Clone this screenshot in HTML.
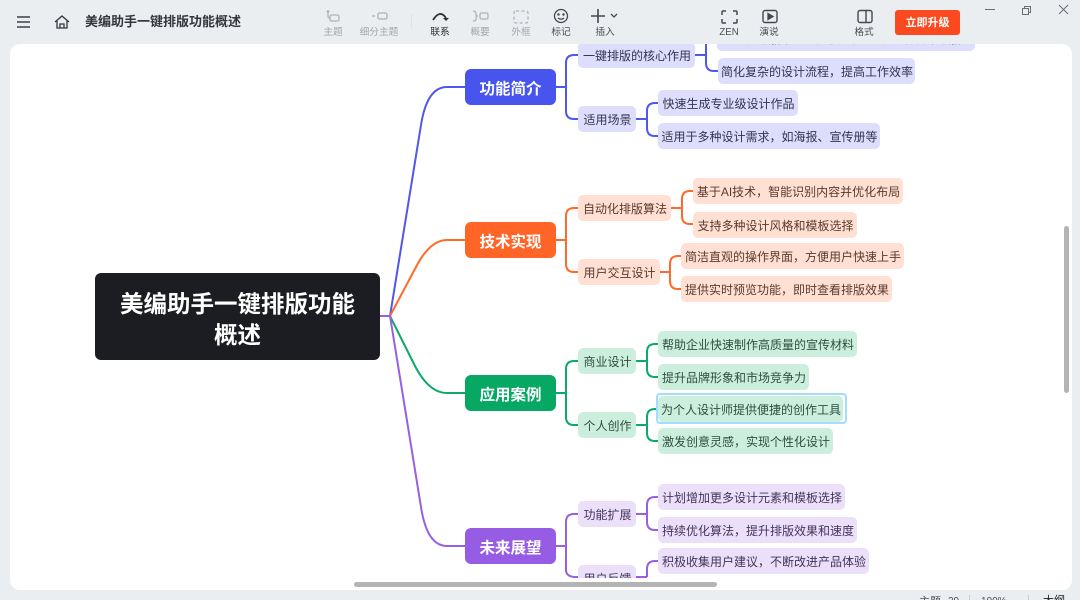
<!DOCTYPE html>
<html lang="zh"><head><meta charset="utf-8">
<style>
html,body{margin:0;padding:0;width:1080px;height:600px;overflow:hidden;background:#ebeef1;font-family:"Liberation Sans","Noto Sans CJK SC",sans-serif}
.a{position:absolute}
#canvas{position:absolute;left:10px;top:44px;width:1062px;height:546px;background:#fff;border-radius:10px}
#map{position:absolute;left:0;top:44px;width:1072px;height:534px;overflow:hidden}
#inner{position:absolute;left:0;top:-44px;width:1072px;height:578px;overflow:hidden}
.n{position:absolute;height:26px;box-sizing:border-box;padding:2px 0 0 1px;line-height:24px;font-size:12px;border-radius:5px;text-align:center;white-space:nowrap;overflow:hidden}
.b{background:#dcdefb;color:#33354f}
.o{background:#ffe0d2;color:#5a3a2c}
.g{background:#cceedd;color:#2c4f3f}
.p{background:#ecdffa;color:#43355a}
.m{position:absolute;left:465px;width:91px;height:36px;box-sizing:border-box;padding-top:3px;line-height:36px;border-radius:6px;color:#fff;font-size:15.5px;font-weight:bold;text-align:center;overflow:hidden}
.t{position:absolute;font-size:9.700px;color:#a3a7ab;text-align:center;width:50px;top:27px;line-height:12px;white-space:nowrap}
.d{color:#4c5056}
svg{position:absolute;left:0;top:0}
</style></head><body>
<div id="canvas"></div>
<div id="map"><div id="inner">
<svg width="1072" height="578" fill="none" stroke-width="2">
<g stroke="#4f57ec">
<path d="M380 316H390L421 125Q427 87 447 87H465"/>
<path d="M556 87H566M578 55H574Q566 55 566 63V111Q566 119 574 119H578"/>
<path d="M695 55H706M718 38H714Q706 38 706 46V63Q706 71 714 71H718"/>
<path d="M636 119H647M658 103H655Q647 103 647 111V128Q647 136 655 136H658"/>
</g>
<g stroke="#ff6a2b">
<path d="M380 316H390L416 267Q430 240 447 240H465"/>
<path d="M556 240H566M578 208H574Q566 208 566 216V264Q566 272 574 272H578"/>
<path d="M671 208H682M693 191H690Q682 191 682 199V216Q682 224 690 224H693"/>
<path d="M660 272H670M681 256H678Q670 256 670 264V281Q670 289 678 289H681"/>
</g>
<g stroke="#0ea968">
<path d="M380 316H390L415 366Q429 393 447 393H465"/>
<path d="M556 393H566M578 361H574Q566 361 566 369V417Q566 425 574 425H578"/>
<path d="M636 361H647M658 344H655Q647 344 647 352V369Q647 377 655 377H658"/>
<path d="M636 425H647M658 409H655Q647 409 647 417V433Q647 441 655 441H658"/>
</g>
<g stroke="#975fe4">
<path d="M380 316H390L421 507Q427 546 447 546H465"/>
<path d="M556 546H566M578 514H574Q566 514 566 522V570Q566 576 574 577H578"/>
<path d="M636 514H647M658 497H655Q647 497 647 505V522Q647 530 655 530H658"/>
<path d="M636 577H647M658 561H655Q647 561 647 569V577"/>
</g>
</svg>
<div class="a" style="left:95px;top:273px;width:285px;height:87px;background:#1c1d22;border-radius:6px;color:#fff;font-size:23.500px;font-weight:bold;line-height:31px;text-align:center;box-sizing:border-box;padding:16px 20px 0">美编助手一键排版功能<br>概述</div>

<div class="m" style="top:69px;background:#4755ee">功能简介</div>
<div class="m" style="top:222px;background:#ff6526">技术实现</div>
<div class="m" style="top:375px;background:#07a864">应用案例</div>
<div class="m" style="top:528px;background:#975ce4;height:36px">未来展望</div>

<div class="n b" style="left:578px;top:42px;width:117px">一键排版的核心作用</div>
<div class="n b" style="left:578px;top:106px;width:58px">适用场景</div>
<div class="n b" style="left:717px;top:25px;width:258px">一键排版帮助用户快速完成专业级设计排版</div>
<div class="n b" style="left:718px;top:58px;width:197px">简化复杂的设计流程，提高工作效率</div>
<div class="n b" style="left:658px;top:90px;width:140px">快速生成专业级设计作品</div>
<div class="n b" style="left:658px;top:123px;width:222px">适用于多种设计需求，如海报、宣传册等</div>

<div class="n o" style="left:578px;top:195px;width:93px">自动化排版算法</div>
<div class="n o" style="left:578px;top:259px;width:82px">用户交互设计</div>
<div class="n o" style="left:693px;top:178px;width:210px">基于AI技术，智能识别内容并优化布局</div>
<div class="n o" style="left:693px;top:212px;width:164px">支持多种设计风格和模板选择</div>
<div class="n o" style="left:681px;top:243px;width:223px">简洁直观的操作界面，方便用户快速上手</div>
<div class="n o" style="left:681px;top:276px;width:211px">提供实时预览功能，即时查看排版效果</div>

<div class="n g" style="left:578px;top:348px;width:58px">商业设计</div>
<div class="n g" style="left:578px;top:412px;width:58px">个人创作</div>
<div class="n g" style="left:658px;top:331px;width:199px">帮助企业快速制作高质量的宣传材料</div>
<div class="n g" style="left:658px;top:364px;width:151px">提升品牌形象和市场竞争力</div>
<div class="a" style="left:656px;top:393px;width:187px;height:27px;border:2px solid #a3dcff;border-radius:4px"></div>
<div class="n g" style="left:658px;top:396px;width:185px">为个人设计师提供便捷的创作工具</div>
<div class="n g" style="left:658px;top:428px;width:175px">激发创意灵感，实现个性化设计</div>

<div class="n p" style="left:578px;top:501px;width:58px">功能扩展</div>
<div class="n p" style="left:578px;top:565px;width:58px;height:13px;border-radius:5px 5px 0 0">用户反馈</div>
<div class="n p" style="left:658px;top:484px;width:187px">计划增加更多设计元素和模板选择</div>
<div class="n p" style="left:658px;top:517px;width:199px">持续优化算法，提升排版效果和速度</div>
<div class="n p" style="left:658px;top:548px;width:211px">积极收集用户建议，不断改进产品体验</div>
</div></div>

<div class="a" style="left:354px;top:582px;width:363px;height:5px;background:#b4b4b4;border-radius:3px"></div>
<div class="a" style="left:1064px;top:226px;width:5px;height:167px;background:#b4b4b4;border-radius:3px"></div>

<!-- toolbar -->
<svg width="1080" height="44" fill="none" stroke-width="1.3">
<g stroke="#3d4146" stroke-width="1.5"><path d="M17 17H30M17 22H30M17 27H30"/></g>
<path d="M55 22L62 16L69 22M57 21V28H67V21M60 28V24H64V28" stroke="#33373c" stroke-width="1.3"/>
<g stroke="#b0b3b7">
<path d="M328 12V16Q328 18 330 18"/><rect x="330" y="15" width="9" height="6" rx="1.500"/><circle cx="328" cy="11.500" r=".7"/>
<rect x="378" y="13" width="9" height="6" rx="1.500"/><path d="M372 16H375"/>
<path d="M473 11Q476 11 476 14V15Q476 16 478 16Q476 16 476 18V19Q476 21 473 21"/><rect x="480" y="13" width="8" height="6" rx="1.500"/>
<rect x="514" y="11" width="14" height="12" rx="2" stroke-dasharray="3 2.500"/>
</g>
<path d="M433 20Q440 9 446 18" stroke="#2e3135" stroke-width="1.800"/><path d="M443 18H449L446 21Z" fill="#2e3135"/>
<g stroke="#45494e">
<circle cx="561" cy="16" r="6.500"/><circle cx="558.500" cy="14.500" r=".6" fill="#45494e"/><circle cx="563.500" cy="14.500" r=".6" fill="#45494e"/><path d="M558 18Q561 20.500 564 18"/>
<path d="M591 16H605M598 9V23" stroke-width="1.600"/><path d="M611 14L614 17L617 14" stroke-width="1.300"/>
<path d="M722 15V12Q722 11 723 11H726M733 11H736Q737 11 737 12V15M737 19V22Q737 23 736 23H733M726 23H723Q722 23 722 22V19" stroke-width="1.500"/>
<rect x="763" y="10.500" width="14" height="12" rx="2" stroke-width="1.400"/><path d="M768 13.500V19.500L773 16.500Z" fill="#45494e"/>
<rect x="858" y="10.500" width="14" height="12" rx="2" stroke-width="1.400"/><path d="M866 11V22" stroke-width="1.400"/>
</g>
<g stroke="#6b6f74" stroke-width="1">
<path d="M985 9.500H995"/>
<rect x="1022.500" y="8.500" width="6" height="6"/><path d="M1024.500 8.500V6.500H1030.500V12.500H1028.500"/>
<path d="M1059 5L1068 14M1068 5L1059 14"/>
</g>
<path d="M411.500 14V29" stroke="#dfe2e5"/>
</svg>
<div class="a" style="left:85px;top:13px;font-size:13px;font-weight:bold;color:#33363a;line-height:18px;white-space:nowrap">美编助手一键排版功能概述</div>
<div class="t" style="left:308px">主题</div>
<div class="t" style="left:354px">细分主题</div>
<div class="t d" style="left:415px;color:#26292d">联系</div>
<div class="t" style="left:455px">概要</div>
<div class="t" style="left:496px">外框</div>
<div class="t d" style="left:536px">标记</div>
<div class="t d" style="left:580px">插入</div>
<div class="t d" style="left:704px">ZEN</div>
<div class="t d" style="left:744px">演说</div>
<div class="t d" style="left:839px">格式</div>
<div class="a" style="left:895px;top:10px;width:65px;height:25px;line-height:26px;background:#fb4a1f;border-radius:3px;color:#fff;font-size:11px;font-weight:bold;text-align:center">立即升级</div>

<!-- status bar -->
<div class="a" style="left:0;top:590px;width:1080px;height:10px;overflow:hidden;color:#4c5056">
<span class="a" style="left:919px;top:5px;height:5px;overflow:hidden;font-size:11px;line-height:14px;white-space:nowrap">主题</span>
<span class="a" style="left:948px;top:5px;height:5px;overflow:hidden;font-size:10px;line-height:14px">29</span>
<span class="a" style="left:969px;top:5px;width:1px;height:5px;background:#c9ccd0"></span>
<span class="a" style="left:981px;top:5px;height:5px;overflow:hidden;font-size:10px;line-height:14px">100%</span>
<span class="a" style="left:1028px;top:5px;width:1px;height:5px;background:#c9ccd0"></span>
<span class="a" style="left:1043px;top:4px;height:6px;overflow:hidden;font-size:11px;line-height:14px;color:#222;white-space:nowrap">大纲</span>
</div>
</body></html>
